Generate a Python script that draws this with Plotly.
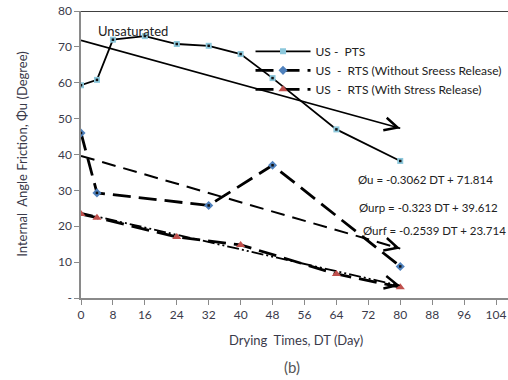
import plotly.graph_objects as go

# Data
pts_x = [0, 4, 8, 16, 24, 32, 40, 48, 64, 80]
pts_y = [59.3, 60.8, 72.0, 73.0, 70.8, 70.3, 68.0, 61.3, 47.0, 38.2]

rtp_x = [0, 4, 32, 48, 80]
rtp_y = [46.0, 29.3, 25.8, 37.0, 8.8]

rtf_x = [0, 4, 24, 40, 64, 80]
rtf_y = [23.4, 22.4, 17.0, 14.8, 6.7, 3.0]

# Trend equations (slope, intercept) shown on the chart
trend_u = (-0.3062, 71.814)
trend_urp = (-0.323, 39.612)
trend_urf = (-0.2539, 23.714)
trend_x = [0, 80]

x_ticks = list(range(0, 105, 8))
y_ticks = [0, 10, 20, 30, 40, 50, 60, 70, 80]
y_ticktext = ["-"] + [str(v) for v in y_ticks[1:]]

FONT = "Lato, 'Open Sans', sans-serif"
TXT = "#3a3a4a"

fig = go.Figure()

def tline(eq):
    return [eq[0] * x + eq[1] for x in trend_x]

# trend lines
fig.add_trace(go.Scatter(x=trend_x, y=tline(trend_u), mode="lines",
                         line=dict(color="black", width=1.6), showlegend=False, hoverinfo="skip"))
fig.add_trace(go.Scatter(x=trend_x, y=tline(trend_urp), mode="lines",
                         line=dict(color="black", width=2, dash="14px,8px"), showlegend=False, hoverinfo="skip"))
fig.add_trace(go.Scatter(x=trend_x, y=tline(trend_urf), mode="lines",
                         line=dict(color="black", width=1.8, dash="12px,3px,2px,3px,2px,3px"), showlegend=False, hoverinfo="skip"))

# series
fig.add_trace(go.Scatter(x=pts_x, y=pts_y, mode="lines+markers", name="US -  PTS",
                         line=dict(color="black", width=1.8),
                         marker=dict(symbol="square", size=6, color="#8cc8dc",
                                     line=dict(color="#8cc8dc", width=0))))
fig.add_trace(go.Scatter(x=rtp_x, y=rtp_y, mode="lines+markers", name="US  -  RTS (Without Sreess Release)",
                         line=dict(color="black", width=2.8, dash="18px,8px"),
                         marker=dict(symbol="diamond", size=7, color="#4f81bd",
                                     line=dict(color="#4f81bd", width=0))))
fig.add_trace(go.Scatter(x=rtf_x, y=rtf_y, mode="lines+markers", name="US  -  RTS (With Stress Release)",
                         line=dict(color="black", width=2.8, dash="18px,8px"),
                         marker=dict(symbol="triangle-up", size=8, color="#c0504d",
                                     line=dict(color="#c0504d", width=0))))
# center dots
fig.add_trace(go.Scatter(x=pts_x + rtp_x, y=pts_y + rtp_y, mode="markers", showlegend=False,
                         hoverinfo="skip",
                         marker=dict(symbol="square", size=2.5, color="#111")))

# arrowheads at ends of trend lines
for eq in (trend_u, trend_urp, trend_urf):
    x1 = trend_x[-1]
    y1 = eq[0] * x1 + eq[1]
    x0 = x1 - 2
    y0 = eq[0] * x0 + eq[1]
    fig.add_annotation(x=x1, y=y1, ax=x0, ay=y0, xref="x", yref="y", axref="x", ayref="y",
                       showarrow=True, arrowhead=5, arrowsize=1.7, arrowwidth=1.5,
                       arrowcolor="black", text="", standoff=0)

fig.add_annotation(x=13.1, y=74.4, xref="x", yref="y", text="Unsaturated", showarrow=False,
                   font=dict(family=FONT, size=13, color="#222"))
fig.add_annotation(x=86.3, y=33.1, xref="x", yref="y", text="Øu = -0.3062 DT + 71.814", showarrow=False,
                   font=dict(family=FONT, size=11.5, color="#222"))
fig.add_annotation(x=87.0, y=25.3, xref="x", yref="y", text="Øurp = -0.323 DT + 39.612", showarrow=False,
                   font=dict(family=FONT, size=11.5, color="#222"))
fig.add_annotation(x=88.6, y=18.9, xref="x", yref="y", text="Øurf = -0.2539 DT + 23.714", showarrow=False,
                   font=dict(family=FONT, size=11.5, color="#222"))

fig.add_annotation(x=0.504, y=-0.146, xref="paper", yref="paper", yanchor="middle", xanchor="center",
                   text="Drying  Times, DT (Day)",
                   showarrow=False, font=dict(family=FONT, size=13, color=TXT))
fig.add_annotation(x=0.494, y=-0.24, xref="paper", yref="paper", yanchor="middle", xanchor="center",
                   text="(b)",
                   showarrow=False, font=dict(family=FONT, size=15, color="#555"))
fig.add_annotation(x=-0.14, y=0.5, xref="paper", yref="paper", text="Internal  Angle Friction, Φu (Degree)",
                   textangle=-90, xanchor="center", yanchor="middle", showarrow=False,
                   font=dict(family=FONT, size=13, color=TXT))

# top border line
fig.add_shape(type="line", xref="paper", yref="y", x0=0, x1=1, y0=80, y1=80,
              line=dict(color="black", width=1.5))

fig.update_layout(
    width=508, height=380,
    margin=dict(l=81, r=0, t=11, b=82, autoexpand=False),
    paper_bgcolor="white", plot_bgcolor="white",
    font=dict(family=FONT, size=12, color=TXT),
    legend=dict(x=0.397, y=0.91, xanchor="left", yanchor="top", bgcolor="rgba(0,0,0,0)",
                itemwidth=55, font=dict(family=FONT, size=12, color="#222"),
                tracegroupgap=3),
    xaxis=dict(range=[0, 107], tickvals=x_ticks, showgrid=False, zeroline=False, automargin=False,
               showline=True, linecolor="#8a8a8a", linewidth=1.5,
               ticks="outside", ticklen=5, tickcolor="#8a8a8a",
               tickfont=dict(family=FONT, size=12, color=TXT)),
    yaxis=dict(range=[0, 80], tickvals=y_ticks, ticktext=y_ticktext, showgrid=False, zeroline=False,
               automargin=False,
               showline=True, linecolor="#8a8a8a", linewidth=1.5,
               ticks="outside", ticklen=5, tickcolor="#8a8a8a",
               tickfont=dict(family=FONT, size=12, color=TXT)),
)

fig.write_html("out.html", config={"displayModeBar": False},
               post_script="document.body.style.margin='0';document.body.style.overflow='hidden';")
